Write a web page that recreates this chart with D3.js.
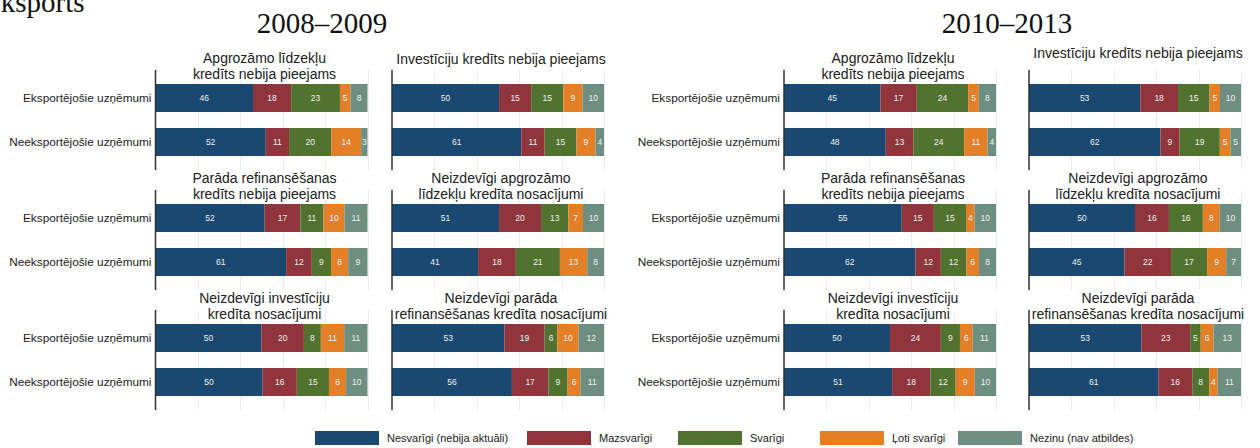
<!DOCTYPE html>
<meta charset="utf-8">
<style>
body { margin: 0; background: #fff; font-family: 'Liberation Sans', Arial, sans-serif; }
.heading { font-family: 'Liberation Serif', 'Times New Roman', serif; font-size: 29px; fill: #111; }
.ptitle { font-size: 14px; fill: #222; }
.cat { font-size: 11.8px; fill: #222; }
.val { font-size: 8.5px; fill: #eef0f0; }
.grid line { stroke: #e6eef0; stroke-width: 1; shape-rendering: crispEdges; }
.grid path { stroke-width: 0; }
.axisline { stroke: #333; stroke-width: 1.5; }
.legend text { font-size: 11px; fill: #222; }
</style>
<body>
<script src="https://cdnjs.cloudflare.com/ajax/libs/d3/7.8.5/d3.min.js"></script>
<script>
// data
var periods = ["2008–2009", "2010–2013"];
var categories = ["Eksportējošie uzņēmumi", "Neeksportējošie uzņēmumi"];
var importance = ["Nesvarīgi (nebija aktuāli)", "Mazsvarīgi", "Svarīgi", "Ļoti svarīgi", "Nezinu (nav atbildes)"];
var panelTitles = [
	["Apgrozāmo līdzekļu", "kredīts nebija pieejams"],
	["Investīciju kredīts nebija pieejams"],
	["Parāda refinansēšanas", "kredīts nebija pieejams"],
	["Neizdevīgi apgrozāmo", "līdzekļu kredīta nosacījumi"],
	["Neizdevīgi investīciju", "kredīta nosacījumi"],
	["Neizdevīgi parāda", "refinansēšanas kredīta nosacījumi"]
];
// per panel: [eksportējošie, neeksportējošie], each in importance order
var vals2008 = [
	[[46, 18, 23, 5, 8], [52, 11, 20, 14, 3]],
	[[50, 15, 15, 9, 10], [61, 11, 15, 9, 4]],
	[[52, 17, 11, 10, 11], [61, 12, 9, 8, 9]],
	[[51, 20, 13, 7, 10], [41, 18, 21, 13, 8]],
	[[50, 20, 8, 11, 11], [50, 16, 15, 8, 10]],
	[[53, 19, 6, 10, 12], [56, 17, 9, 6, 11]]
];
var vals2010 = [
	[[45, 17, 24, 5, 8], [48, 13, 24, 11, 4]],
	[[53, 18, 15, 5, 10], [62, 9, 19, 5, 5]],
	[[55, 15, 15, 4, 10], [62, 12, 12, 6, 8]],
	[[50, 16, 16, 8, 10], [45, 22, 17, 9, 7]],
	[[50, 24, 9, 6, 11], [51, 18, 12, 9, 10]],
	[[53, 23, 5, 6, 13], [61, 16, 8, 4, 11]]
];
var gridTicks = [0.2, 0.4, 0.6, 0.8, 1];

var colors = ["#1a4870", "#8f353b", "#52732f", "#e27f27", "#6e8e81"];

// layout
var W = 1260, H = 448;
var panelW = 212;
var colX = [[155.5, 392], [784, 1029]];
var rowTop = 70, rowStep = 120, panelH = 100;
var headingX = [322, 1007];

var svg = d3.select("body").append("svg")
	.attr("width", W).attr("height", H);

svg.append("text").attr("class", "heading")
	.attr("x", -17).attr("y", 12)
	.text("Eksports");

svg.selectAll(".period").data(periods).enter()
	.append("text").attr("class", "heading period")
	.attr("x", function(d, i) { return headingX[i]; })
	.attr("y", 33)
	.attr("text-anchor", "middle")
	.text(function(d) { return d; });

var x = d3.scaleLinear().domain([0, 1]).range([0, panelW]);
var y = d3.scaleBand().domain(categories).range([0, panelH])
	.paddingInner(0.364).paddingOuter(0.318);

var stack = d3.stack()
	.keys(d3.range(importance.length))
	.offset(d3.stackOffsetExpand);

[vals2008, vals2010].forEach(function(vals, g) {
	vals.forEach(function(panel, p) {
		var col = p % 2, row = Math.floor(p / 2);
		var px = colX[g][col], py = rowTop + row * rowStep;
		var pg = svg.append("g").attr("transform", "translate(" + px + "," + py + ")");

		pg.append("g").attr("class", "grid")
			.call(d3.axisBottom(x).tickValues(gridTicks).tickSize(panelH).tickFormat(""));

		var rows = panel.map(function(v, i) {
			var o = { cat: categories[i] };
			v.forEach(function(n, k) { o[k] = n; });
			return o;
		});
		var series = stack(rows);

		series.forEach(function(s, k) {
			var seg = pg.selectAll(".seg" + k).data(s).enter().append("g");
			seg.append("rect")
				.attr("x", function(d) { return x(d[0]); })
				.attr("y", function(d) { return y(d.data.cat); })
				.attr("width", function(d) { return x(d[1]) - x(d[0]); })
				.attr("height", y.bandwidth())
				.attr("fill", colors[k]);
			seg.append("text").attr("class", "val")
				.attr("x", function(d) { return (x(d[0]) + x(d[1])) / 2; })
				.attr("y", function(d) { return y(d.data.cat) + y.bandwidth() / 2; })
				.attr("dy", "0.35em")
				.attr("text-anchor", "middle")
				.text(function(d) { return d.data[k]; });
		});

		pg.append("line").attr("class", "axisline")
			.attr("x1", 0).attr("x2", 0).attr("y1", 0).attr("y2", panelH);

		if (col === 0) {
			pg.selectAll(".cat").data(categories).enter()
				.append("text").attr("class", "cat")
				.attr("x", -4)
				.attr("y", function(d) { return y(d) + y.bandwidth() / 2; })
				.attr("dy", "0.35em")
				.attr("text-anchor", "end")
				.text(function(d) { return d; });
		}

		// panel title: two-line titles sit on the panel top, one-liners above it
		var t = panelTitles[p];
		var ty = t.length > 1 ? -7 : (g === 0 ? -6 : -12);
		var title = pg.append("text").attr("class", "ptitle")
			.attr("text-anchor", "middle");
		t.forEach(function(line, i) {
			title.append("tspan")
				.attr("x", panelW / 2 + 3)
				.attr("y", ty + i * 16.3)
				.text(line);
		});
	});
});

// legend
var legendX = [315, 527, 678, 820, 958];
var leg = svg.append("g").attr("class", "legend");
importance.forEach(function(name, i) {
	leg.append("rect")
		.attr("x", legendX[i]).attr("y", 431)
		.attr("width", 64).attr("height", 14)
		.attr("fill", colors[i]);
	leg.append("text")
		.attr("x", legendX[i] + 72).attr("y", 442)
		.text(name);
});
</script>
